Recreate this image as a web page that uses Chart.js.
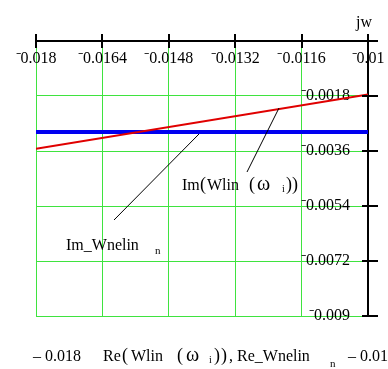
<!DOCTYPE html>
<html>
<head>
<meta charset="utf-8">
<script src="https://cdn.jsdelivr.net/npm/chart.js@4.4.1/dist/chart.umd.min.js"></script>
<style>
  html, body { margin: 0; padding: 0; background: #fff; }
  #wrap { width: 388px; height: 369px; }
</style>
</head>
<body>
<div id="wrap"><canvas id="plot"></canvas></div>
<script>
// values
const reX = [-0.018, -0.01];
const imWlin = [-0.00353, -0.00175];
const imWnelin = [-0.00298, -0.00298];

const xTicks = [-0.018, -0.0164, -0.0148, -0.0132, -0.0116, -0.01];
const xTickLabels = ['⁻0.018', '⁻0.0164', '⁻0.0148', '⁻0.0132', '⁻0.0116', '⁻0.01'];
const yTicks = [0, -0.0018, -0.0036, -0.0054, -0.0072, -0.009];
const yTickLabels = ['', '⁻0.0018', '⁻0.0036', '⁻0.0054', '⁻0.0072', '⁻0.009'];

const SERIF = '"Liberation Serif", "Times New Roman", serif';
const GRID = '#3fe33f';

function font(size) { return size + 'px ' + SERIF; }

// draw a row of text pieces: [text, x, size, dy]
function pieces(ctx, baseY, list) {
  list.forEach(([t, x, size, dy]) => {
    ctx.font = font(size || 16);
    ctx.fillText(t, x, baseY + (dy || 0));
  });
}

// scales take no room: the plot box is fixed by layout padding
function noRoom(s) {
  if (s.isHorizontal()) s.height = 0; else s.width = 0;
  s.paddingLeft = s.paddingRight = s.paddingTop = s.paddingBottom = 0;
}

const mathcadExtras = {
  id: 'mathcadExtras',
  afterDraw(chart) {
    const { ctx, chartArea: a, scales: { x, y } } = chart;
    ctx.save();

    // axis ticks crossing the axes
    ctx.strokeStyle = '#000';
    ctx.lineWidth = 2;
    ctx.beginPath();
    xTicks.forEach(v => {
      const px = Math.round(x.getPixelForValue(v));
      ctx.moveTo(px, a.top - 7);
      ctx.lineTo(px, a.top + 7);
    });
    yTicks.forEach(v => {
      const py = Math.round(y.getPixelForValue(v));
      ctx.moveTo(a.right - 6, py);
      ctx.lineTo(a.right + 10, py);
    });
    ctx.stroke();

    // leader lines
    ctx.lineWidth = 1;
    ctx.beginPath();
    ctx.moveTo(247, 172); ctx.lineTo(279, 108);
    ctx.moveTo(114, 220); ctx.lineTo(199, 134);
    ctx.stroke();

    ctx.fillStyle = '#000';
    ctx.textBaseline = 'alphabetic';
    ctx.textAlign = 'left';

    // jw axis name
    ctx.font = font(16);
    ctx.fillText('jw', 356, 27);

    // curve labels
    pieces(ctx, 190, [
      ['Im', 182], ['(', 200, 18], ['Wlin', 207], ['(', 249, 18],
      ['ω', 257, 20], ['i', 282, 10, 2], [')', 286, 18], [')', 292, 18]
    ]);
    pieces(ctx, 250, [['Im_Wnelin', 66], ['n', 155, 11, 4]]);

    // bottom axis limits and title
    pieces(ctx, 361, [
      ['– 0.018', 33],
      ['Re', 103], ['(', 122, 18], ['Wlin', 131], ['(', 177, 18],
      ['ω', 186, 20], ['i', 209, 10, 2], [')', 214, 18], [')', 221, 18],
      [',', 229], ['Re_Wnelin', 237], ['n', 330, 11, 6],
      ['– 0.01', 348]
    ]);

    ctx.restore();
  }
};

new Chart(document.getElementById('plot'), {
  type: 'scatter',
  data: {
    datasets: [
      {
        label: 'Im(Wlin(ω_i))',
        data: reX.map((v, i) => ({ x: v, y: imWlin[i] })),
        showLine: true,
        borderColor: '#e00000',
        borderWidth: 2,
        pointRadius: 0
      },
      {
        label: 'Im_Wnelin_n',
        data: reX.map((v, i) => ({ x: v, y: imWnelin[i] })),
        showLine: true,
        borderColor: '#0000f0',
        borderWidth: 4,
        pointRadius: 0
      }
    ]
  },
  options: {
    responsive: true,
    maintainAspectRatio: false,
    animation: false,
    layout: { padding: { left: 36, top: 41, right: 20, bottom: 53 } },
    plugins: {
      legend: { display: false },
      tooltip: { enabled: false }
    },
    scales: {
      x: {
        type: 'linear',
        position: 'top',
        min: -0.018,
        max: -0.01,
        afterBuildTicks: s => { s.ticks = xTicks.map(v => ({ value: v })); },
        afterFit: noRoom,
        grid: { color: GRID, lineWidth: 1, drawTicks: false },
        border: { color: '#000', width: 2 },
        ticks: {
          mirror: true,
          padding: 8,
          autoSkip: false,
          maxRotation: 0,
          color: '#000',
          font: { family: SERIF, size: 16 },
          callback: (v, i) => xTickLabels[i]
        }
      },
      y: {
        type: 'linear',
        position: 'right',
        min: -0.009,
        max: 0,
        afterBuildTicks: s => { s.ticks = yTicks.map(v => ({ value: v })); },
        afterFit: noRoom,
        grid: { color: GRID, lineWidth: 1, drawTicks: false },
        border: { color: '#000', width: 2 },
        ticks: {
          mirror: true,
          padding: -18,
          autoSkip: false,
          color: '#000',
          font: { family: SERIF, size: 16 },
          callback: (v, i) => yTickLabels[i]
        }
      }
    }
  },
  plugins: [mathcadExtras]
});
</script>
</body>
</html>
